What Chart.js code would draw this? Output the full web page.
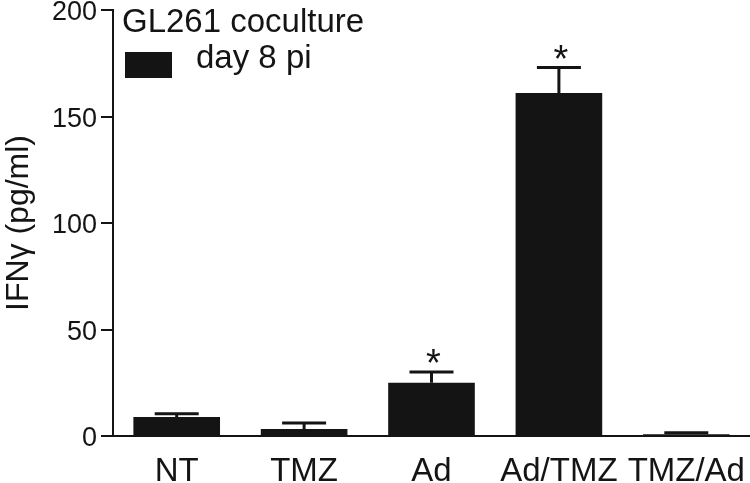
<!DOCTYPE html>
<html>
<head>
<meta charset="utf-8">
<script src="https://cdn.jsdelivr.net/npm/chart.js@4"></script>
<style>
  body { margin: 0; background: #fff; }
  #wrap { width: 750px; height: 483px; }
</style>
</head>
<body>
<div id="wrap"><canvas id="ifnChart"></canvas></div>
<script>
// IFN-gamma in GL261 coculture, day 8 pi
const groups = ['NT', 'TMZ', 'Ad', 'Ad/TMZ', 'TMZ/Ad'];
const ifnMean = [8.9, 3.3, 25, 161, 0.8];
const ifnErr = [1.5, 2.8, 5, 12, 0.7];
const signif = [false, false, true, true, false];
const yTicks = [0, 50, 100, 150, 200];
const legendTitle = 'GL261 coculture';
const seriesName = 'day 8 pi';

const ink = '#141414';
const fontFam = '"Liberation Sans", Arial, Helvetica, sans-serif';

// error bars + asterisks drawn from the y scale
const errorBars = {
  id: 'errorBars',
  afterDatasetsDraw(chart) {
    const ctx = chart.ctx;
    const y = chart.scales.y;
    const meta = chart.getDatasetMeta(0);
    ctx.save();
    ctx.strokeStyle = ink;
    ctx.lineWidth = 3;
    meta.data.forEach((bar, i) => {
      const yTop = y.getPixelForValue(ifnMean[i] + ifnErr[i]);
      const yVal = y.getPixelForValue(ifnMean[i]);
      ctx.beginPath();
      ctx.moveTo(bar.x, yVal);
      ctx.lineTo(bar.x, yTop);
      ctx.moveTo(bar.x - 22, yTop);
      ctx.lineTo(bar.x + 22, yTop);
      ctx.stroke();
      if (signif[i]) {
        ctx.fillStyle = ink;
        ctx.font = '38px ' + fontFam;
        ctx.textAlign = 'center';
        ctx.textBaseline = 'alphabetic';
        ctx.fillText('*', bar.x + 2, yTop + 4);
      }
    });
    ctx.restore();
  }
};

// legend in the top-left corner of the plot
const cornerLegend = {
  id: 'cornerLegend',
  afterDraw(chart) {
    const ctx = chart.ctx;
    const ca = chart.chartArea;
    ctx.save();
    ctx.fillStyle = ink;
    ctx.font = '33px ' + fontFam;
    ctx.textAlign = 'left';
    ctx.textBaseline = 'alphabetic';
    ctx.fillText(legendTitle, ca.left + 9, 32);
    ctx.fillStyle = chart.data.datasets[0].backgroundColor;
    ctx.fillRect(ca.left + 12, 52, 47, 26);
    ctx.fillStyle = ink;
    ctx.fillText(chart.data.datasets[0].label, ca.left + 83, 68);
    ctx.restore();
  }
};

new Chart(document.getElementById('ifnChart').getContext('2d'), {
  type: 'bar',
  data: {
    labels: groups,
    datasets: [{ label: seriesName, data: ifnMean, backgroundColor: ink, borderWidth: 0,
                 categoryPercentage: 0.68, barPercentage: 1 }]
  },
  options: {
    responsive: true,
    maintainAspectRatio: false,
    animation: false,
    layout: { padding: { top: 10, right: 0, left: 0, bottom: 0 } },
    plugins: {
      tooltip: { enabled: false },
      legend: { display: false }
    },
    scales: {
      x: {
        afterFit(axis) { axis.height = 47; axis.paddingLeft = 0; axis.paddingRight = 0; },
        grid: { display: false },
        border: { display: true, color: ink, width: 2 },
        ticks: { color: ink, font: { family: fontFam, size: 33 }, padding: 8 }
      },
      y: {
        min: 0, max: 200,
        afterBuildTicks(axis) { axis.ticks = yTicks.map(v => ({ value: v })); },
        afterFit(axis) { axis.width = 113; axis.paddingTop = 0; axis.paddingBottom = 0; },
        grid: { drawOnChartArea: false, drawTicks: true, tickLength: 12, color: ink, lineWidth: 2 },
        border: { display: true, color: ink, width: 2 },
        ticks: { color: ink, font: { family: fontFam, size: 27 }, padding: 4, labelOffset: 3 },
        title: { display: true, text: 'IFNγ (pg/ml)', color: ink,
                 font: { family: fontFam, size: 32 }, padding: 0 }
      }
    }
  },
  plugins: [errorBars, cornerLegend]
});
</script>
</body>
</html>
